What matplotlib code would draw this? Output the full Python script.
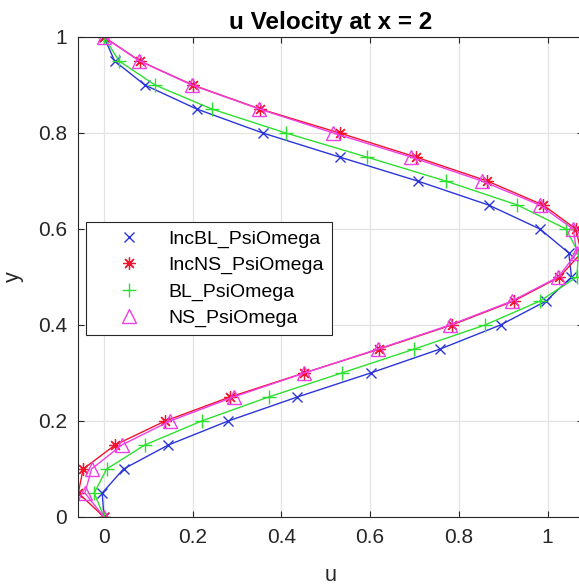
import matplotlib
matplotlib.use("Agg")
import matplotlib.pyplot as plt
import numpy as np

plt.rcParams['font.family'] = ['Liberation Sans', 'DejaVu Sans']

# y stations (marker locations)
y = [0.0, 0.05, 0.10, 0.15, 0.20, 0.25, 0.30, 0.35, 0.40, 0.45, 0.50,
     0.55, 0.60, 0.65, 0.70, 0.75, 0.80, 0.85, 0.90, 0.95, 1.0]

u_incbl = [0.0, -0.004, 0.044, 0.145, 0.280, 0.436, 0.601, 0.758, 0.894, 0.997, 1.054,
           1.048, 0.983, 0.867, 0.707, 0.531, 0.358, 0.209, 0.092, 0.024, 0.0]
u_incns = [0.0, -0.058, -0.047, 0.025, 0.138, 0.284, 0.451, 0.621, 0.784, 0.924, 1.027,
           1.076, 1.064, 0.990, 0.864, 0.703, 0.531, 0.352, 0.200, 0.081, 0.0]
u_bl = [0.0, -0.022, 0.006, 0.092, 0.220, 0.371, 0.536, 0.700, 0.859, 0.983, 1.066,
        1.070, 1.042, 0.932, 0.770, 0.592, 0.410, 0.243, 0.115, 0.034, 0.0]
u_ns = [0.0, -0.043, -0.028, 0.040, 0.149, 0.292, 0.452, 0.618, 0.780, 0.920, 1.024,
        1.066, 1.058, 0.982, 0.852, 0.692, 0.517, 0.350, 0.198, 0.080, 0.0]

labels = ['IncBL_PsiOmega', 'IncNS_PsiOmega', 'BL_PsiOmega', 'NS_PsiOmega']
xticks = [0, 0.2, 0.4, 0.6, 0.8, 1]
xticklabels = ['0', '0.2', '0.4', '0.6', '0.8', '1']
yticks = [0, 0.2, 0.4, 0.6, 0.8, 1]
yticklabels = ['0', '0.2', '0.4', '0.6', '0.8', '1']

W, H = 579, 586
fig = plt.figure(figsize=(W / 100, H / 100), dpi=100)
# right edge of axes runs slightly off the canvas, as in the reference
ax = fig.add_axes([78 / W, 69 / H, 505 / W, 480 / H])

blue = '#2b35d8'
red = '#f0142e'
green = '#2ee02e'
mag = '#ee3fe6'

series = [
    (u_incbl, blue, 'x', 7, 1.0),
    (u_incns, red, (8, 2, 0), 9, 0.9),
    (u_bl, green, '+', 10, 1.0),
    (u_ns, mag, '^', 10, 1.0),
]

handles = []
for (u, c, m, ms, mew), lab in zip(series, labels):
    ax.plot(u, y, '-', color=c, lw=1.0)
    h, = ax.plot(u, y, linestyle='none', marker=m, ms=ms, mew=mew,
                 color=c, mfc='none' if m == '^' else c, label=lab)
    handles.append(h)

ax.set_xlim(-0.0586, 1.080)
ax.set_ylim(0, 1)
ax.set_xticks(xticks)
ax.set_xticklabels(xticklabels)
ax.set_yticks(yticks)
ax.set_yticklabels(yticklabels)
ax.grid(True, color='#e3e3e3', lw=0.9)
ax.set_axisbelow(True)
ax.tick_params(direction='in', length=4, width=0.8, colors='#262626',
               labelsize=15, top=True, right=True, pad=8)
for s in ax.spines.values():
    s.set_color('#262626')
    s.set_linewidth(0.8)

ax.set_xlabel('u', fontsize=15.5, color='#262626', labelpad=13)
ax.set_ylabel('y', fontsize=15.5, color='#262626', labelpad=10)
ax.set_title('u Velocity at x = 2', fontsize=17.5, fontweight='bold', pad=6)

leg = ax.legend(handles=handles, loc='upper left',
                bbox_to_anchor=(8 / 505, 295 / 480), borderaxespad=0,
                fontsize=14, handlelength=3.6, handletextpad=0.25,
                labelspacing=0.45, borderpad=0.4, fancybox=False,
                framealpha=1, edgecolor='#262626')
leg.get_frame().set_linewidth(0.8)

fig.savefig('out.png', dpi=100)
plt.close(fig)
